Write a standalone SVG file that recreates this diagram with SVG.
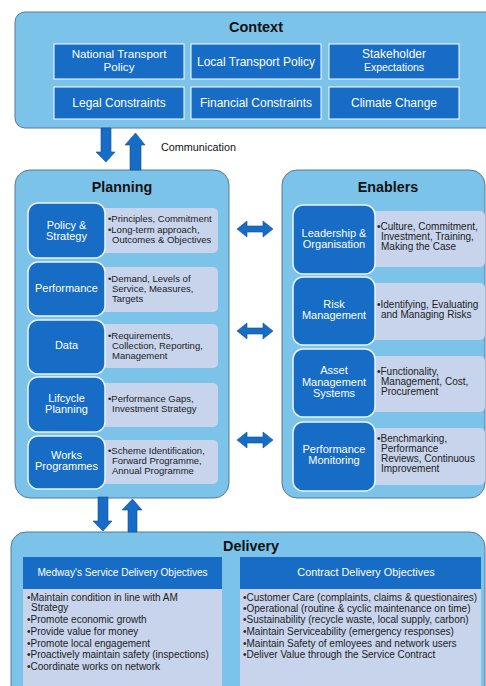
<svg xmlns="http://www.w3.org/2000/svg" width="486" height="686" viewBox="0 0 486 686">
<style>
.panel{fill:#7cc3e9;stroke:#56789a;stroke-width:1}
.cbox{fill:#176cc6;stroke:#ffffff;stroke-width:1}
.dbox{fill:#176cc6;stroke:#eaf3fb;stroke-width:1.5}
.lbox{fill:#c7d4ec}
.arr{fill:#176cc6;stroke:#0e4f92;stroke-width:0.6}
.title{font-family:"Liberation Sans",Arial,sans-serif;font-weight:bold;font-size:14.3px;fill:#111;text-anchor:middle}
.ct{font-family:"Liberation Sans",Arial,sans-serif;font-size:12px;fill:#fff;text-anchor:middle}
.dt{font-family:"Liberation Sans",Arial,sans-serif;font-size:11px;fill:#fff;text-anchor:middle}
.lt{font-family:"Liberation Sans",Arial,sans-serif;font-size:9.5px;fill:#222}
.dl{font-family:"Liberation Sans",Arial,sans-serif;font-size:10px;fill:#222}
.ht{font-family:"Liberation Sans",Arial,sans-serif;fill:#fff;text-anchor:middle}
.lab{font-family:"Liberation Sans",Arial,sans-serif;font-size:10.8px;fill:#111}
</style>

<g id="context">
<rect class="panel" x="15" y="12" width="490" height="116" rx="10"/>
<text class="title" x="256" y="32" style="font-size:14.5px">Context</text>
<g id="ctx-national"><rect class="cbox" x="54" y="44" width="130" height="35"/><text class="ct" x="119" y="58" style="font-size:11.6px">National Transport</text><text class="ct" x="119" y="71" style="font-size:11.6px">Policy</text></g>
<g id="ctx-local"><rect class="cbox" x="191" y="44" width="130" height="35"/><text class="ct" x="256" y="66">Local Transport Policy</text></g>
<g id="ctx-stakeholder"><rect class="cbox" x="329" y="44" width="130" height="35"/><text class="ct" x="394" y="58">Stakeholder</text><text class="ct" x="394" y="71" style="font-size:10.5px">Expectations</text></g>
<g id="ctx-legal"><rect class="cbox" x="54" y="87" width="130" height="32"/><text class="ct" x="119" y="107">Legal Constraints</text></g>
<g id="ctx-financial"><rect class="cbox" x="191" y="87" width="130" height="32"/><text class="ct" x="256" y="107">Financial Constraints</text></g>
<g id="ctx-climate"><rect class="cbox" x="329" y="87" width="130" height="32"/><text class="ct" x="394" y="107">Climate Change</text></g>
</g>

<g id="planning">
<rect class="panel" x="15" y="170" width="214" height="328" rx="15"/>
<text class="title" x="122" y="192">Planning</text>
<g id="pl-policy">
<rect class="lbox" x="95" y="208" width="123" height="45" rx="5"/>
<rect class="dbox" x="28" y="203" width="77" height="55" rx="10"/>
<text class="dt" x="66.5" y="229">Policy &amp;</text><text class="dt" x="66.5" y="240">Strategy</text>
<text class="lt" x="108" y="222">•Principles, Commitment</text>
<text class="lt" x="108" y="233">•Long-term approach,</text>
<text class="lt" x="112" y="243">Outcomes &amp; Objectives</text>
</g>
<g id="pl-performance">
<rect class="lbox" x="95" y="267" width="123" height="45" rx="5"/>
<rect class="dbox" x="28" y="262" width="77" height="54" rx="10"/>
<text class="dt" x="66.5" y="292">Performance</text>
<text class="lt" x="108" y="282">•Demand, Levels of</text>
<text class="lt" x="112" y="292">Service, Measures,</text>
<text class="lt" x="112" y="302">Targets</text>
</g>
<g id="pl-data">
<rect class="lbox" x="95" y="324" width="123" height="44" rx="5"/>
<rect class="dbox" x="28" y="320" width="77" height="54" rx="10"/>
<text class="dt" x="66.5" y="349">Data</text>
<text class="lt" x="108" y="339">•Requirements,</text>
<text class="lt" x="112" y="349">Collection, Reporting,</text>
<text class="lt" x="112" y="359">Management</text>
</g>
<g id="pl-lifecycle">
<rect class="lbox" x="95" y="383" width="123" height="44" rx="5"/>
<rect class="dbox" x="28" y="377" width="77" height="55" rx="10"/>
<text class="dt" x="66.5" y="402">Lifcycle</text><text class="dt" x="66.5" y="413">Planning</text>
<text class="lt" x="108" y="402">•Performance Gaps,</text>
<text class="lt" x="112" y="412">Investment Strategy</text>
</g>
<g id="pl-works">
<rect class="lbox" x="95" y="440" width="123" height="44" rx="5"/>
<rect class="dbox" x="28" y="436" width="77" height="53" rx="10"/>
<text class="dt" x="66.5" y="459">Works</text><text class="dt" x="66.5" y="470">Programmes</text>
<text class="lt" x="108" y="454">•Scheme Identification,</text>
<text class="lt" x="112" y="464">Forward Programme,</text>
<text class="lt" x="112" y="474">Annual Programme</text>
</g>
</g>

<g id="enablers">
<rect class="panel" x="282" y="170" width="203" height="328" rx="15"/>
<text class="title" x="388" y="192">Enablers</text>
<g id="en-leadership">
<rect class="lbox" x="365" y="211" width="120" height="56" rx="5"/>
<rect class="dbox" x="293" y="205" width="82" height="69" rx="10"/>
<text class="dt" x="334" y="237">Leadership &amp;</text><text class="dt" x="334" y="248">Organisation</text>
<text class="dl" x="377" y="230">•Culture, Commitment,</text>
<text class="dl" x="381" y="240">Investment, Training,</text>
<text class="dl" x="381" y="250">Making the Case</text>
</g>
<g id="en-risk">
<rect class="lbox" x="365" y="283" width="120" height="57" rx="5"/>
<rect class="dbox" x="293" y="277" width="82" height="68" rx="10"/>
<text class="dt" x="334" y="308">Risk</text><text class="dt" x="334" y="319">Management</text>
<text class="dl" x="377" y="308">•Identifying, Evaluating</text>
<text class="dl" x="381" y="318">and Managing Risks</text>
</g>
<g id="en-asset">
<rect class="lbox" x="365" y="356" width="120" height="56" rx="5"/>
<rect class="dbox" x="293" y="349" width="82" height="68" rx="10"/>
<text class="dt" x="334" y="374">Asset</text><text class="dt" x="334" y="386">Management</text><text class="dt" x="334" y="397">Systems</text>
<text class="dl" x="377" y="375">•Functionality,</text>
<text class="dl" x="381" y="385">Management, Cost,</text>
<text class="dl" x="381" y="395">Procurement</text>
</g>
<g id="en-monitoring">
<rect class="lbox" x="365" y="428" width="120" height="57" rx="5"/>
<rect class="dbox" x="293" y="422" width="82" height="69" rx="10"/>
<text class="dt" x="334" y="453">Performance</text><text class="dt" x="334" y="464">Monitoring</text>
<text class="dl" x="377" y="442">•Benchmarking,</text>
<text class="dl" x="381" y="452">Performance</text>
<text class="dl" x="381" y="462">Reviews, Continuous</text>
<text class="dl" x="381" y="472">Improvement</text>
</g>
</g>

<g id="delivery">
<rect class="panel" x="11" y="532" width="474" height="175" rx="15"/>
<text class="title" x="251" y="551" style="font-size:14.4px">Delivery</text>
<g id="del-medway">
<rect fill="#176cc6" x="23" y="557" width="199" height="32"/>
<rect class="lbox" x="23" y="589" width="199" height="110"/>
<text class="ht" x="122.5" y="576" style="font-size:10.1px">Medway's Service Delivery Objectives</text>
<text class="dl" x="27" y="601">•Maintain condition in line with AM</text>
<text class="dl" x="31" y="611">Strategy</text>
<text class="dl" x="27" y="623">•Promote economic growth</text>
<text class="dl" x="27" y="635">•Provide value for money</text>
<text class="dl" x="27" y="647">•Promote local engagement</text>
<text class="dl" x="27" y="658">•Proactively maintain safety (inspections)</text>
<text class="dl" x="27" y="670">•Coordinate works on network</text>
</g>
<g id="del-contract">
<rect fill="#176cc6" x="240" y="557" width="241" height="32"/>
<rect class="lbox" x="240" y="589" width="241" height="110"/>
<text class="ht" x="366" y="576" style="font-size:10.9px">Contract Delivery Objectives</text>
<text class="dl" x="243" y="601">•Customer Care (complaints, claims &amp; questionaires)</text>
<text class="dl" x="243" y="612">•Operational (routine &amp; cyclic maintenance on time)</text>
<text class="dl" x="243" y="623">•Sustainability (recycle waste, local supply, carbon)</text>
<text class="dl" x="243" y="635">•Maintain Serviceability (emergency responses)</text>
<text class="dl" x="243" y="647">•Maintain Safety of emloyees and network users</text>
<text class="dl" x="243" y="658">•Deliver Value through the Service Contract</text>
</g>
</g>

<g id="connectors">
<polygon class="arr" points="101,128 111,128 111,152 115,152 106,162 96,152 101,152"/>
<polygon class="arr" points="130,170 141,170 141,145 145,145 135.5,133 125,145 130,145"/>
<text class="lab" x="161" y="151">Communication</text>
<polygon class="arr" points="98,497 108,497 108,521 112,521 103,531 93,521 98,521"/>
<polygon class="arr" points="128,532 137,532 137,510 142,510 132.5,499 122,510 128,510"/>
<polygon class="arr" points="237,229 247,221 247,226 263,226 263,221 273,229 263,237 263,232 247,232 247,237"/>
<polygon class="arr" points="237,331 247,323 247,328 263,328 263,323 273,331 263,339 263,334 247,334 247,339"/>
<polygon class="arr" points="237,440 247,432 247,437 263,437 263,432 273,440 263,448 263,443 247,443 247,448"/>
</g>
</svg>
